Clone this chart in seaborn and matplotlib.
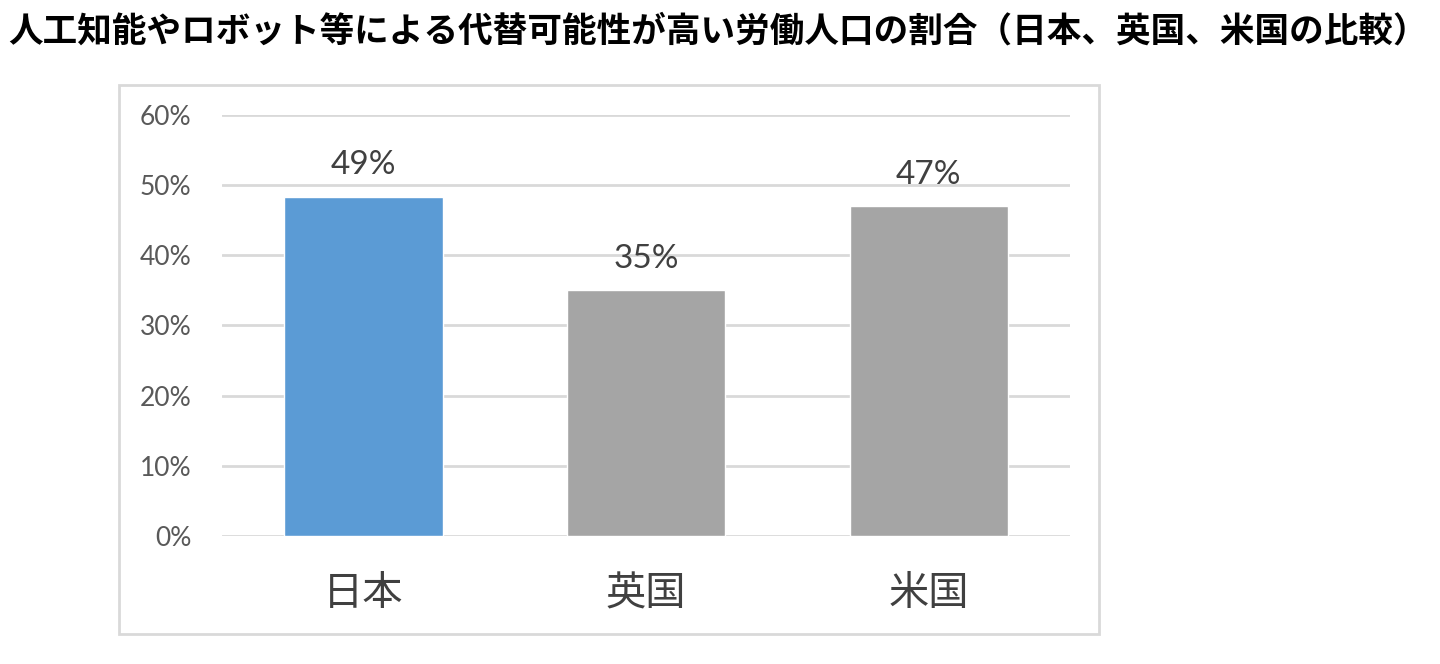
#!/usr/bin/env python3
"""Share of workforce replaceable by AI / robots (Japan, UK, US)."""

import pandas as pd
import matplotlib
matplotlib.use('Agg')
import matplotlib.pyplot as plt
from matplotlib.patches import Rectangle
from matplotlib.ticker import FuncFormatter
import seaborn as sns

# Data
countries = ['日本', '英国', '米国']
share_pct = [48.3, 35.0, 47.0]
value_labels = ['49%', '35%', '47%']
bar_colors = ['#5B9BD5', '#A5A5A5', '#A5A5A5']
y_ticks = [0, 10, 20, 30, 40, 50, 60]

title = '人工知能やロボット等による代替可能性が高い労働人口の割合（日本、英国、米国の比較）'

sns.set_style('white')
plt.rcParams['font.family'] = ['Noto Sans CJK JP', 'DejaVu Sans']

df = pd.DataFrame({'country': countries, 'share': share_pct})

fig = plt.figure(figsize=(14.4, 6.64), dpi=100)
ax = fig.add_axes([0.1542, 0.1928, 0.5889, 0.634])

sns.barplot(data=df, x='country', y='share', hue='country',
            palette=bar_colors, width=0.56, legend=False, ax=ax,
            saturation=1)

ax.set_ylim(0, 60)
ax.set_yticks(y_ticks)
ax.yaxis.set_major_formatter(FuncFormatter(lambda v, _: f'{v:.0f}%'))
ax.grid(axis='y', color='#D9D9D9', linewidth=2)
ax.set_axisbelow(True)
for s in ax.spines.values():
    s.set_visible(False)
ax.set_xlabel('')
ax.set_ylabel('')
ax.tick_params(axis='y', length=0, pad=22, labelsize=19, labelcolor='#595959')
ax.tick_params(axis='x', length=0, pad=27, labelsize=29, labelcolor='#404040')
for lbl in ax.get_yticklabels():
    lbl.set_family(['Lato', 'DejaVu Sans'])

# value labels above bars
for i, (v, txt) in enumerate(zip(share_pct, value_labels)):
    ax.annotate(txt, (i, v), xytext=(0, 12), textcoords='offset points',
                ha='center', va='bottom', fontsize=24, color='#404040',
                family=['Lato', 'DejaVu Sans'])

# chart frame
fig.patches.append(Rectangle((0.0826, 0.0452), 0.6806, 0.8268,
                             transform=fig.transFigure, fill=False,
                             edgecolor='#D9D9D9', linewidth=2))

fig.text(0.0056, 0.953, title, ha='left', va='center',
         fontsize=24.9, fontweight='bold', color='black')

fig.savefig('out.png', dpi=100)
plt.close(fig)
